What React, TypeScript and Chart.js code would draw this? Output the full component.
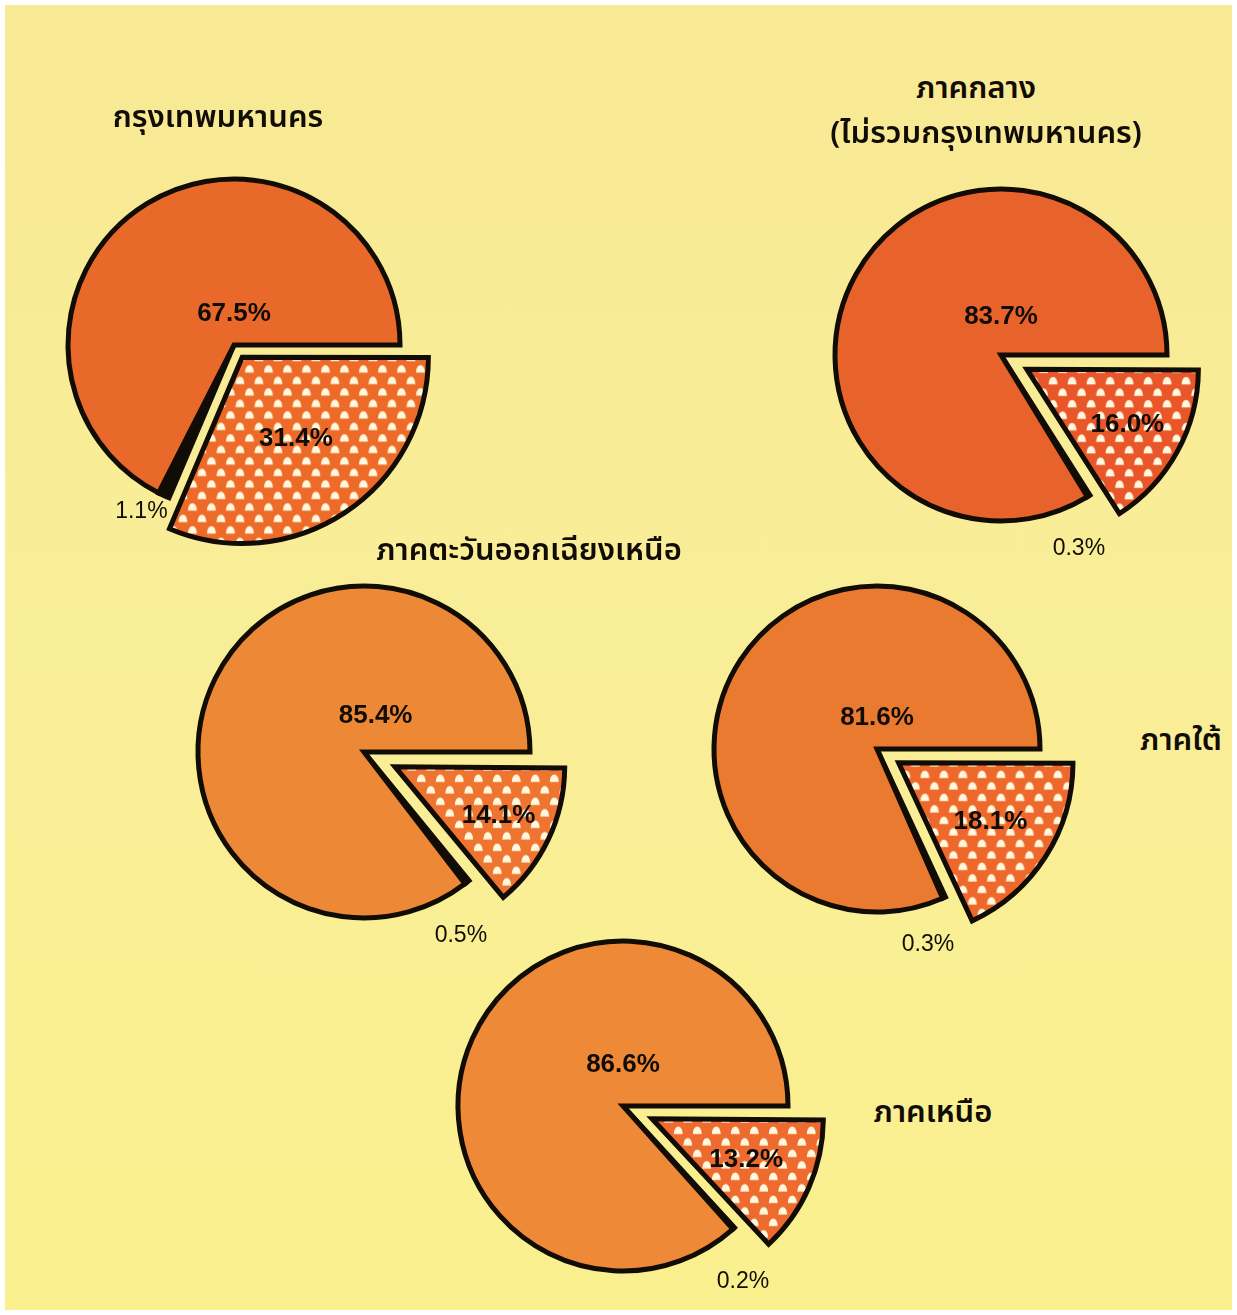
import React, { useEffect, useRef } from "react";
import { Chart, PieController, ArcElement } from "chart.js";

Chart.register(PieController, ArcElement);

// ---------------- data ----------------
const regionTitles: string[][] = [
  ["กรุงเทพมหานคร"],
  ["ภาคกลาง", "(ไม่รวมกรุงเทพมหานคร)"],
  ["ภาคตะวันออกเฉียงเหนือ"],
  ["ภาคใต้"],
  ["ภาคเหนือ"],
];
const sliceCategories = ["ส่วนลายจุด", "ส่วนสีดำ", "ส่วนสีส้ม"];
const dottedShare = [31.4, 16.0, 14.1, 18.1, 13.2];
const smallShare = [1.1, 0.3, 0.5, 0.3, 0.2];
const mainShare = [67.5, 83.7, 85.4, 81.6, 86.6];

// ---------------- layout / style ----------------
type PieStyle = {
  cx: number;
  cy: number;
  r: number;
  dotR: number;
  shift: number;
  main: string;
  dotBg: string;
  mainLabel: [number, number];
  dotLabel: number;
  smallShift: number;
  smallDist: number;
};

const pieStyles: PieStyle[] = [
  { cx: 234, cy: 345, r: 166, dotR: 185, shift: 16, main: "#E8692A", dotBg: "#EE6A28", mainLabel: [0, -0.19], dotLabel: 0.52, smallShift: 4, smallDist: 1.15 },
  { cx: 1001, cy: 355, r: 166, dotR: 167, shift: 34, main: "#E8632B", dotBg: "#E9562A", mainLabel: [0, -0.23], dotLabel: 0.66, smallShift: 10, smallDist: 1.26 },
  { cx: 364, cy: 752, r: 166, dotR: 162, shift: 42, main: "#EC8836", dotBg: "#EE7430", mainLabel: [0.07, -0.22], dotLabel: 0.66, smallShift: 10.5, smallDist: 1.25 },
  { cx: 877, cy: 749, r: 163, dotR: 172, shift: 28, main: "#EB7A31", dotBg: "#EE682C", mainLabel: [0, -0.19], dotLabel: 0.62, smallShift: 9.7, smallDist: 1.24 },
  { cx: 623, cy: 1106, r: 165, dotR: 163, shift: 40, main: "#EE8938", dotBg: "#EE6A2E", mainLabel: [0, -0.25], dotLabel: 0.58, smallShift: 7.8, smallDist: 1.29 },
];

const titleStyles = [
  [{ x: 218, y: 117 }],
  [{ x: 976, y: 88 }, { x: 986, y: 133 }],
  [{ x: 529, y: 550 }],
  [{ x: 1181, y: 740 }],
  [{ x: 933, y: 1112 }],
];

const S = 470;
const LABEL_FONT = 'bold 26px "Liberation Sans", Arial, sans-serif';
const SMALL_FONT = '23px "Liberation Sans", Arial, sans-serif';
const THAI_FONT = '"Noto Sans Thai", "Noto Sans Thai Looped", "Noto Sans", "DejaVu Sans", sans-serif';

function makePattern(ctx: CanvasRenderingContext2D, bg: string) {
  const W = 19, H = 23;
  const t = document.createElement("canvas");
  t.width = W;
  t.height = H;
  const g = t.getContext("2d")!;
  g.fillStyle = bg;
  g.fillRect(0, 0, W, H);
  g.fillStyle = "#FFF8DC";
  const dome = (cx: number, cy: number) => {
    g.beginPath();
    g.moveTo(cx - 4.5, cy + 3);
    g.quadraticCurveTo(cx - 4, cy - 4.5, cx, cy - 4.5);
    g.quadraticCurveTo(cx + 4, cy - 4.5, cx + 4.5, cy + 3);
    g.closePath();
    g.fill();
  };
  dome(4.75, 5.75);
  dome(14.25, 17.25);
  return ctx.createPattern(t, "repeat")!;
}

function PieLayer({ i, layer }: { i: number; layer: "base" | "dotted" }) {
  const ref = useRef<HTMLCanvasElement>(null);
  const s = pieStyles[i];
  useEffect(() => {
    const canvas = ref.current!;
    const values = [dottedShare[i], smallShare[i], mainShare[i]];
    const total = values.reduce((a, b) => a + b, 0);
    const ctx = canvas.getContext("2d")!;
    const isDot = layer === "dotted";
    const T = "rgba(0,0,0,0)";
    const INK = "#120c06";
    const pattern = isDot ? makePattern(ctx, s.dotBg) : null;
    const fmt = (v: number) => v.toFixed(1) + "%";
    // Chart.js moves an arc by offset/4 * (2 - sin(circumference)); invert to get the wanted shift
    const circ = (2 * Math.PI * values[0]) / total;
    const offsetOpt = (s.shift * 4) / (2 - Math.sin(Math.min(Math.PI, circ)));

    const labelPlugin = {
      id: "sliceLabels",
      afterDatasetsDraw(chart: any) {
        const meta = chart.getDatasetMeta(0);
        const c: CanvasRenderingContext2D = chart.ctx;
        c.save();
        c.fillStyle = INK;
        c.textAlign = "center";
        c.textBaseline = "middle";
        if (isDot) {
          const p = meta.data[0].getProps(["x", "y", "startAngle", "endAngle", "outerRadius"], true);
          const mid = (p.startAngle + p.endAngle) / 2;
          const d = s.shift + s.dotLabel * p.outerRadius;
          c.font = LABEL_FONT;
          c.fillText(fmt(values[0]), p.x + Math.cos(mid) * d, p.y + Math.sin(mid) * d);
        } else {
          const pb = meta.data[2].getProps(["x", "y", "outerRadius"], true);
          c.font = LABEL_FONT;
          c.fillText(fmt(values[2]), pb.x + s.mainLabel[0] * pb.outerRadius, pb.y + s.mainLabel[1] * pb.outerRadius);
          const ps = meta.data[1].getProps(["x", "y", "startAngle", "endAngle", "outerRadius"], true);
          const mid = (ps.startAngle + ps.endAngle) / 2 + (s.smallShift * Math.PI) / 180;
          const d = s.smallDist * ps.outerRadius;
          c.font = SMALL_FONT;
          c.fillText(fmt(values[1]), ps.x + Math.cos(mid) * d, ps.y + Math.sin(mid) * d);
        }
        c.restore();
      },
    };

    const chart = new Chart(canvas, {
      type: "pie",
      data: {
        labels: sliceCategories,
        datasets: [
          {
            data: values,
            backgroundColor: isDot ? [pattern as any, T, T] : [T, INK, s.main],
            borderColor: isDot ? [INK, T, T] : [T, INK, INK],
            borderWidth: isDot ? [5, 0, 0] : [0, 5, 5],
            offset: isDot ? [offsetOpt, 0, 0] : [0, 0, 0],
            borderJoinStyle: "miter",
          } as any,
        ],
      },
      options: {
        responsive: false,
        animation: false,
        rotation: 90,
        radius: isDot ? s.dotR : s.r,
        events: [],
      } as any,
      plugins: [labelPlugin as any],
    });
    return () => chart.destroy();
  }, [i, layer]);
  return (
    <canvas
      ref={ref}
      width={S}
      height={S}
      style={{ position: "absolute", left: s.cx - S / 2, top: s.cy - S / 2, width: S, height: S }}
    />
  );
}

export default function App() {
  useEffect(() => {
    document.body.style.margin = "0";
    document.body.style.overflow = "hidden";
  }, []);
  return (
    <div
      style={{
        position: "absolute",
        left: 0,
        top: 0,
        width: 1237,
        height: 1315,
        overflow: "hidden",
        background: "#ffffff",
      }}
    >
      <div
        style={{
          position: "absolute",
          left: 5,
          top: 5,
          width: 1227,
          height: 1305,
          background: "linear-gradient(180deg, #F8E993 0%, #F9EE98 50%, #FAF08E 100%)",
        }}
      />
      {pieStyles.map((_, i) => (
        <React.Fragment key={i}>
          <PieLayer i={i} layer="base" />
          <PieLayer i={i} layer="dotted" />
        </React.Fragment>
      ))}
      {regionTitles.map((lines, i) =>
        lines.map((line, j) => (
          <div
            key={i + "-" + j}
            style={{
              position: "absolute",
              left: titleStyles[i][j].x,
              top: titleStyles[i][j].y,
              transform: "translate(-50%, -50%)",
              whiteSpace: "nowrap",
              fontFamily: THAI_FONT,
              fontSize: 31,
              fontWeight: 600,
              color: "#120c06",
              lineHeight: 1,
            }}
          >
            {line}
          </div>
        ))
      )}
    </div>
  );
}
